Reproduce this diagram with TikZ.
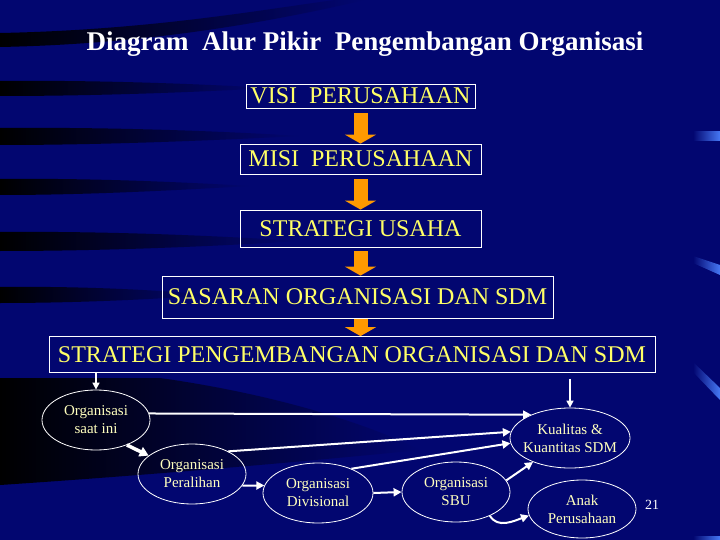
\documentclass[tikz,border=0pt]{standalone}
\usepackage{fontspec}
\setmainfont{Liberation Serif}
\usetikzlibrary{arrows.meta,shapes.geometric}
\definecolor{navybg}{RGB}{2,6,112}
\definecolor{boxtext}{RGB}{255,255,102}
\definecolor{elltext}{RGB}{255,255,190}
\definecolor{arroworange}{RGB}{255,153,0}
\definecolor{edgeblue}{RGB}{70,120,245}
\newcommand{\elltxt}[2]{\makebox[0pt]{#1}\\\makebox[0pt]{#2}}
\tikzset{
  stepbox/.style={draw=white,line width=0.8pt,inner sep=0pt,text=boxtext,font=\fontsize{24}{26}\selectfont},
  orgell/.style={ellipse,draw=white,line width=0.8pt,inner sep=0pt,minimum width=108pt,minimum height=60pt,
    text=elltext,align=center,font=\fontsize{15}{18}\selectfont},
  bigarrow/.style={arroworange,line width=14pt,-{Triangle[width=31pt,length=9pt]},shorten <=5pt},
  link/.style={white,line width=2pt,-{Triangle[width=8pt,length=8pt]}},
  drop/.style={white,line width=1.5pt,-{Triangle[width=7pt,length=7pt]}},
  streak/.style={left color=black,right color=navybg,draw=none},
  glint/.style={left color=navybg,right color=edgeblue,draw=none}
}

\begin{document}
\begin{tikzpicture}[x=1pt,y=-1pt]
  \fill[navybg] (0,0) rectangle (720,540);
  \useasboundingbox (0,0) rectangle (720,540);
  % background streaks
  \shade[streak] (0,33) .. controls (150,30) and (260,10) .. (335,0) -- (365,0) .. controls (270,22) and (150,44) .. (0,47) -- cycle;
  \shade[streak] (0,81) .. controls (100,80) and (200,84) .. (270,88) .. controls (200,92) and (100,96) .. (0,96) -- cycle;
  \shade[streak] (0,128) .. controls (110,127) and (220,131) .. (300,136) .. controls (220,140) and (110,145) .. (0,145) -- cycle;
  \shade[streak] (0,179) .. controls (90,178) and (180,182) .. (250,186) .. controls (180,190) and (90,195) .. (0,195) -- cycle;
  \shade[streak] (0,232) .. controls (110,231) and (220,236) .. (300,241) .. controls (220,246) and (110,251) .. (0,251) -- cycle;
  \shade[streak] (0,287) .. controls (80,286) and (160,290) .. (210,295) .. controls (160,299) and (80,303) .. (0,303) -- cycle;
  \shade[streak] (0,378) -- (160,378) .. controls (280,395) and (370,425) .. (420,450) .. controls (300,462) and (150,475) .. (0,485) -- cycle;
  \shade[glint] (693,132) rectangle (720,141);
  \shade[glint] (693,256) -- (720,265) -- (720,275) -- (693,263) -- cycle;
  \shade[glint] (693,362) -- (720,388) -- (720,400) -- (693,372) -- cycle;
  \shade[glint] (693,536) rectangle (720,540);

  \node[font=\bfseries\fontsize{27}{30}\selectfont,text=white] (title) at (365,44) {Diagram\ \ Alur Pikir\ \ Pengembangan Organisasi};

  \node[stepbox,minimum width=229pt,minimum height=24pt] (visi) at (360.5,96) {VISI\ \ PERUSAHAAN};
  \node[stepbox,minimum width=241pt,minimum height=30pt] (misi) at (360.5,159) {MISI\ \ PERUSAHAAN};
  \node[stepbox,minimum width=241pt,minimum height=37pt] (strusaha) at (360.5,228.5) {STRATEGI USAHA};
  \node[stepbox,minimum width=391pt,minimum height=42pt] (sasaran) at (357.5,297) {SASARAN ORGANISASI DAN SDM};
  \node[stepbox,minimum width=606pt,minimum height=36pt] (strpeng) at (352,354.5) {STRATEGI PENGEMBANGAN ORGANISASI DAN SDM};

  \draw[bigarrow] (visi) -- (misi);
  \draw[bigarrow] (misi) -- (strusaha);
  \draw[bigarrow,shorten <=4pt] (strusaha) -- (sasaran.north -| strusaha.south);
  \draw[bigarrow,shorten <=1pt] (sasaran.south -| strusaha.south) -- (strpeng.north -| strusaha.south);

  \node[orgell] (saat) at (96,420) {\elltxt{Organisasi}{saat ini}};
  \node[orgell] (peralihan) at (192,474) {\elltxt{Organisasi}{Peralihan}};
  \node[orgell,minimum width=110pt] (divisi) at (318,493) {\elltxt{Organisasi}{Divisional}};
  \node[orgell] (sbu) at (456,492) {\elltxt{Organisasi}{SBU}};
  \node[orgell,minimum width=120pt] (kualitas) at (570,438) {\elltxt{Kualitas \&}{Kuantitas SDM}};
  \node[orgell,minimum height=58pt] (anak) at (582,509) {\elltxt{Anak}{Perusahaan}};
  \node[text=white,font=\fontsize{14}{16}\selectfont] (hal) at (652,505) {21};

  \draw[drop] (strpeng.south -| saat.north) -- (saat.north);
  \draw[drop,shorten <=6pt] (strpeng.south -| kualitas.north) -- (kualitas.north);
  \draw[link] (saat.7) -- (kualitas.149);
  \draw[link,line width=3.5pt,-{Triangle[width=10pt,length=9pt]}] (saat.-39) -- (peralihan.157);
  \draw[link] (peralihan.32) -- (kualitas.174);
  \draw[link] (divisi.36) -- (kualitas.185);
  \draw[link] (peralihan.-13) -- (divisi.172);
  \draw[link] (divisi.0) -- (sbu.180);
  \draw[link] (sbu.13) -- (kualitas.213);
  \draw[link] (sbu.-35) to[out=-60,in=200] (anak.187);
\end{tikzpicture}
\end{document}
